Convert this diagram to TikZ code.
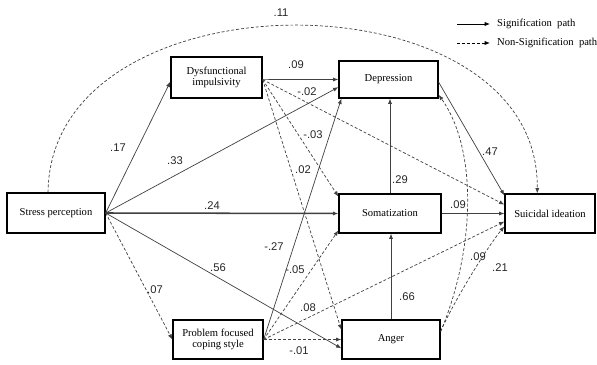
\documentclass[tikz,border=0pt]{standalone}
\usepackage{fontspec}
\setmainfont{Liberation Serif}
\newfontfamily\numfont{Liberation Sans}
\usetikzlibrary{arrows.meta,calc}
\tikzset{
  box/.style={draw=black, line width=1.1pt, fill=white, inner sep=0pt, align=center, font=\fontsize{9}{10}\selectfont},
  sig/.style={draw=black!75, line width=0.6pt, -{Latex[length=4.5pt,width=3.5pt]}},
  nsig/.style={draw=black!75, line width=0.6pt, dash pattern=on 2.5pt off 1.7pt, -{Latex[length=4.5pt,width=3.5pt]}},
  lbl/.style={font=\numfont\fontsize{9.5}{10}\selectfont, text=black!85, inner sep=0pt},
  leg/.style={font=\fontsize{9}{10}\selectfont, anchor=west, inner sep=0pt}
}
\begin{document}
\begin{tikzpicture}[x=0.85pt,y=-0.85pt]
\useasboundingbox (0,0) rectangle (597,365);
% boxes
\node[box, minimum width=98*0.85pt, minimum height=40*0.85pt] (sp) at (56,213) {Stress perception};
\node[box, minimum width=91*0.85pt, minimum height=41*0.85pt] (di) at (216.5,77.5) {Dysfunctional\\impulsivity};
\node[box, minimum width=99*0.85pt, minimum height=37*0.85pt] (dep) at (388.5,79.5) {Depression};
\node[box, minimum width=102*0.85pt, minimum height=39*0.85pt] (som) at (390,213.5) {Somatization};
\node[box, minimum width=90*0.85pt, minimum height=39*0.85pt] (si) at (550,213.5) {Suicidal ideation};
\node[box, minimum width=90*0.85pt, minimum height=39*0.85pt] (pf) at (218,339.5) {Problem focused\\coping style};
\node[box, minimum width=98*0.85pt, minimum height=39*0.85pt] (ang) at (391,339.5) {Anger};

% anchor helpers
\coordinate (diE) at ($(di.south east)!0.45!(di.north east)$);
\coordinate (angE) at ($(ang.north east)!0.3!(ang.south east)$);

% from stress perception
\draw[sig] (sp.east) -- ($(di.south west)!0.4!(di.north west)$);
\draw[sig] (sp.east) -- ($(dep.south west)!0.3!(dep.north west)$);
\draw[sig, line width=1.3pt] (sp.east) -- (som.west);
\draw[sig] (sp.east) -- ($(ang.south west)!0.28!(ang.north west)$);
\draw[nsig] (sp.east) -- (pf.west);
\draw[nsig] ($(sp.north west)!0.42!(sp.north east)$) .. controls (50,-30) and (540,-30) .. ($(si.north west)!0.36!(si.north east)$);

% from dysfunctional impulsivity
\draw[sig] (diE) -- (dep.west);
\draw[nsig] (diE) -- ($(si.south west)!0.72!(si.north west)$);
\draw[nsig] (diE) -- ($(som.south west)!0.92!(som.north west)$);
\draw[nsig] (diE) -- ($(ang.south west)!0.74!(ang.north west)$);

% from problem focused coping
\draw[sig] (pf.east) -- ($(dep.south west)+(3,0)$);
\draw[nsig] (pf.east) -- ($(som.south west)!0.08!(som.north west)$);
\draw[nsig] (pf.east) -- ($(si.south west)!0.3!(si.north west)$);
\draw[nsig] (pf.east) -- (ang.west);

% mediators
\draw[sig] (som.north) -- (som.north |- dep.south);
\draw[sig] (ang.north) -- (ang.north |- som.south);
\draw[sig] (som.east) -- (si.west);
\draw[sig] ($(dep.north east)!0.57!(dep.south east)$) -- ($(si.north west)+(0,2)$);
\draw[nsig] (angE) .. controls (475,250) and (478,150) .. ($(dep.south east)!0.1!(dep.north east)$);
\draw[nsig] (angE) .. controls (452,305) and (485,250) .. ($(si.south west)!0.18!(si.north west)$);

% labels
\node[lbl] (l1) at (281,13) {.11};
\node[lbl] (l2) at (296,65) {.09};
\node[lbl] (l3) at (307,92) {-.02};
\node[lbl] (l4) at (118,148) {.17};
\node[lbl] (l5) at (175,161) {.33};
\node[lbl] (l6) at (313,135) {-.03};
\node[lbl] (l7) at (303,170) {.02};
\node[lbl] (l8) at (212,206) {.24};
\node[lbl] (l9) at (400,180) {.29};
\node[lbl] (l10) at (458,205) {.09};
\node[lbl] (l11) at (490,152) {.47};
\node[lbl] (l12) at (274,247) {-.27};
\node[lbl] (l13) at (218,268) {.56};
\node[lbl] (l14) at (155,290) {.07};
\node[lbl] (l15) at (295,270) {-.05};
\node[lbl] (l16) at (308,308) {.08};
\node[lbl] (l17) at (299,351) {-.01};
\node[lbl] (l18) at (407,297) {.66};
\node[lbl] (l19) at (478,257) {.09};
\node[lbl] (l20) at (500,268) {.21};

% legend
\coordinate (la1) at (457,24);
\coordinate (lb1) at (490,24);
\coordinate (la2) at (457,43);
\coordinate (lb2) at (490,43);
\draw[sig, draw=black] (la1) -- (lb1);
\draw[nsig, draw=black] (la2) -- (lb2);
\node[leg] (lt1) at (497,24) {Signification\ \ path};
\node[leg] (lt2) at (497,43) {Non-Signification\ \ path};
\end{tikzpicture}
\end{document}
